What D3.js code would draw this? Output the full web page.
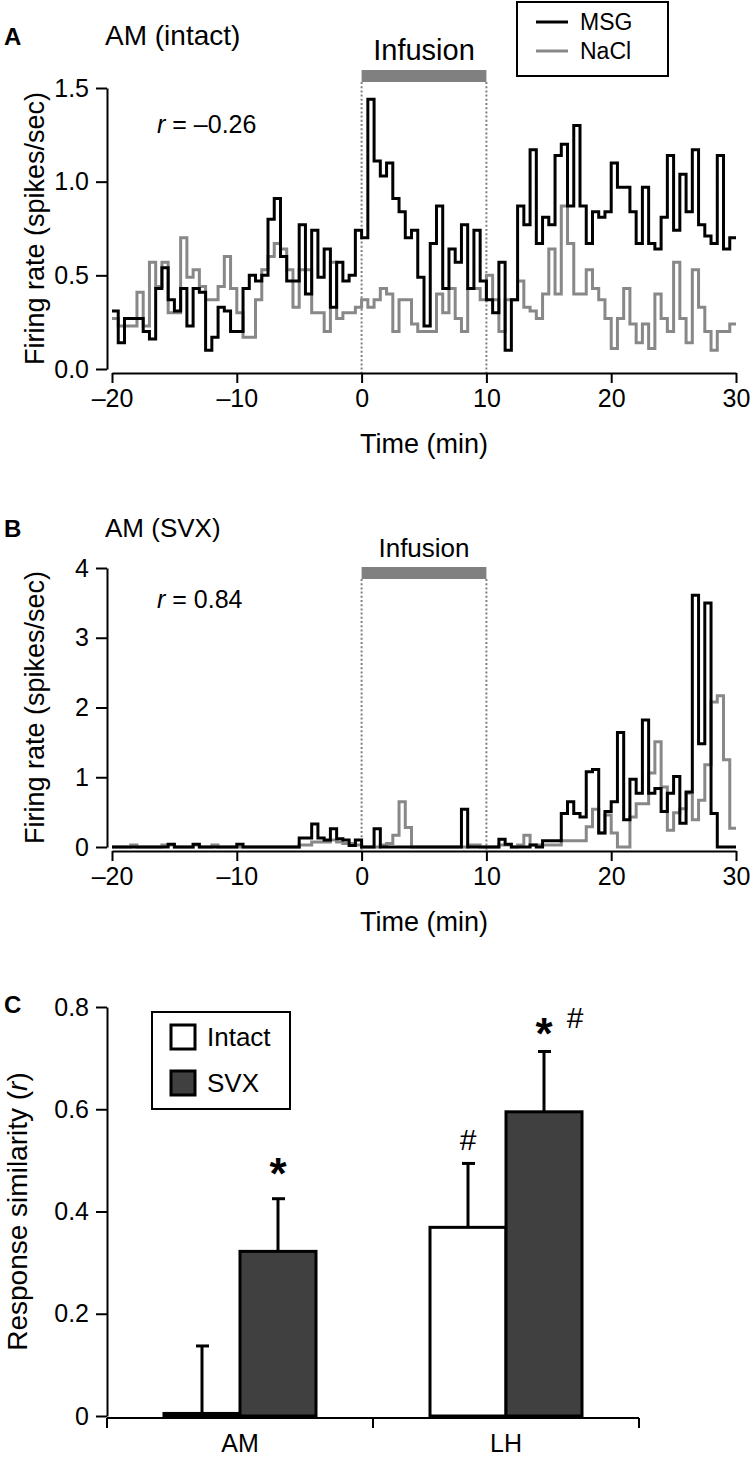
<!DOCTYPE html>
<html>
<head>
<meta charset="UTF-8">
<title>AM firing rate and response similarity</title>
<script src="https://cdnjs.cloudflare.com/ajax/libs/d3/7.8.5/d3.min.js"></script>
<style>
  body { margin: 0; background: #fff; }
  svg text { font-family: "Liberation Sans", Arial, Helvetica, sans-serif; }
</style>
</head>
<body>
<svg id="fig" width="753" height="1460"></svg>
<script>
// 30-s bins, first bin starts at -20 min
var binStart = -20, binWidth = 0.5;
var timeTicks = [-20, -10, 0, 10, 20, 30];
var infusionWindow = [0, 10];

// Panel A: AM (intact), spikes/sec per bin
var msgIntact = [0.31, 0.14, 0.27, 0.27, 0.27, 0.20, 0.16, 0.43, 0.54, 0.37,
                 0.31, 0.43, 0.23, 0.43, 0.41, 0.10, 0.17, 0.33, 0.31, 0.20,
                 0.20, 0.43, 0.50, 0.47, 0.50, 0.80, 0.91, 0.60, 0.47, 0.47,
                 0.77, 0.40, 0.74, 0.49, 0.64, 0.33, 0.57, 0.47, 0.50, 0.74,
                 0.70, 1.44, 1.11, 1.03, 1.10, 0.91, 0.84, 0.70, 0.74, 0.49,
                 0.23, 0.67, 0.87, 0.43, 0.64, 0.57, 0.77, 0.43, 0.74, 0.47,
                 0.37, 0.30, 0.57, 0.10, 0.37, 0.87, 0.77, 1.17, 0.67, 0.81,
                 0.77, 1.14, 1.20, 0.87, 1.30, 0.87, 0.67, 0.84, 0.81, 0.84,
                 1.10, 0.97, 0.97, 0.84, 0.67, 0.97, 0.67, 0.64, 0.81, 1.14,
                 0.74, 1.04, 0.84, 1.17, 0.77, 0.71, 0.67, 1.14, 0.64, 0.70];
var naclIntact = [0.27, 0.23, 0.23, 0.23, 0.41, 0.23, 0.57, 0.44, 0.57, 0.30,
                  0.30, 0.70, 0.49, 0.53, 0.44, 0.37, 0.37, 0.44, 0.60, 0.43,
                  0.30, 0.17, 0.17, 0.37, 0.53, 0.60, 0.67, 0.64, 0.53, 0.33,
                  0.53, 0.53, 0.30, 0.30, 0.20, 0.57, 0.27, 0.30, 0.30, 0.33,
                  0.37, 0.33, 0.37, 0.43, 0.40, 0.20, 0.37, 0.37, 0.24, 0.20,
                  0.20, 0.20, 0.40, 0.30, 0.43, 0.27, 0.20, 0.43, 0.43, 0.37,
                  0.50, 0.37, 0.20, 0.37, 0.37, 0.47, 0.33, 0.31, 0.27, 0.40,
                  0.64, 0.40, 0.87, 0.67, 0.40, 0.40, 0.53, 0.43, 0.37, 0.27,
                  0.11, 0.27, 0.43, 0.24, 0.14, 0.24, 0.11, 0.40, 0.27, 0.20,
                  0.57, 0.27, 0.14, 0.53, 0.33, 0.20, 0.10, 0.20, 0.20, 0.24];

// Panel B: AM (SVX)
var msgSvx = [0, 0, 0, 0, 0, 0, 0, 0, 0, 0.04,
              0, 0, 0, 0.04, 0, 0, 0, 0, 0, 0,
              0.04, 0, 0, 0, 0, 0, 0, 0, 0, 0,
              0.13, 0.13, 0.33, 0.13, 0.10, 0.26, 0.12, 0.10, 0.02, 0.10,
              0, 0, 0.26, 0, 0, 0, 0, 0, 0, 0,
              0, 0, 0, 0, 0, 0, 0.54, 0, 0, 0,
              0, 0, 0.11, 0.04, 0, 0, 0, 0.03, 0, 0.09,
              0.09, 0.09, 0.48, 0.65, 0.48, 0.43, 1.08, 1.11, 0.20, 0.51,
              0.65, 1.64, 0.39, 0.97, 0.77, 1.82, 0.77, 0.84, 0.51, 0.77,
              1.01, 0.34, 0.79, 3.61, 1.48, 3.50, 0.48, 0, 0, 0];
var naclSvx = [0, 0, 0, 0.03, 0, 0, 0, 0, 0.03, 0.03,
               0, 0, 0, 0.03, 0, 0, 0.03, 0, 0, 0,
               0, 0, 0, 0, 0, 0, 0, 0, 0, 0,
               0.03, 0.03, 0.07, 0.07, 0.07, 0.10, 0.07, 0.05, 0.05, 0.03,
               0, 0, 0, 0.03, 0.05, 0.17, 0.65, 0.28, 0, 0,
               0, 0, 0, 0, 0, 0, 0, 0.03, 0.03, 0,
               0, 0, 0.03, 0.03, 0, 0.03, 0.17, 0.03, 0.03, 0.03,
               0.03, 0.03, 0.09, 0.09, 0.09, 0.09, 0.29, 0.54, 0.20, 0.46,
               0.20, 0, 0, 0.43, 0.62, 0.62, 1.06, 1.51, 0.86, 0.24,
               0.49, 0.55, 0.77, 0.39, 0.67, 1.18, 2.08, 2.17, 1.25, 0.27];

// Panel C: response similarity (r), mean and upper SEM
var regions = ["AM", "LH"];
var groups = ["Intact", "SVX"];
var simMean = { AM: [0.005, 0.322], LH: [0.369, 0.595] };
var simErr  = { AM: [0.132, 0.103], LH: [0.125, 0.118] };
var simTicks = [0, 0.2, 0.4, 0.6, 0.8];

var svg = d3.select("#fig");
var BLACK = "#000", GREY = "#888888", BAR = "#808080";

function minusFmt(d) { return d < 0 ? "\u2013" + Math.abs(d) : String(d); }

function styleAxis(g, size) {
    g.attr("font-size", size);
    g.select(".domain").attr("stroke-width", 2);
    g.selectAll(".tick line").attr("stroke-width", 2);
}

function stepPoints(vals) {
    var pts = vals.map(function (v, i) { return [binStart + i * binWidth, v]; });
    pts.push([binStart + vals.length * binWidth, vals[vals.length - 1]]);
    return pts;
}

function drawTrace(opt) {
    var g = svg.append("g");
    var x = d3.scaleLinear().domain([-20, 30]).range([112, 736]);
    var y = d3.scaleLinear().domain([0, opt.ymax]).range([opt.yZero, opt.yTop]);

    // infusion bar + dotted borders
    g.append("rect")
        .attr("x", x(infusionWindow[0]))
        .attr("y", opt.barY)
        .attr("width", x(infusionWindow[1]) - x(infusionWindow[0]))
        .attr("height", 12)
        .attr("fill", BAR);
    g.selectAll("line.inf")
        .data(infusionWindow)
        .enter().append("line")
        .attr("x1", function (d) { return x(d); })
        .attr("x2", function (d) { return x(d); })
        .attr("y1", opt.barY + 12)
        .attr("y2", opt.xAxisY)
        .attr("stroke", BAR)
        .attr("stroke-width", 2)
        .attr("stroke-dasharray", "2,2.2");
    g.append("text")
        .attr("x", x((infusionWindow[0] + infusionWindow[1]) / 2))
        .attr("y", opt.barY - 10)
        .attr("text-anchor", "middle")
        .attr("font-size", opt.infSize)
        .text("Infusion");

    var line = d3.line()
        .x(function (d) { return x(d[0]); })
        .y(function (d) { return y(d[1]); })
        .curve(d3.curveStepAfter);

    g.append("path").datum(stepPoints(opt.nacl))
        .attr("d", line).attr("fill", "none")
        .attr("stroke", GREY).attr("stroke-width", 3);
    g.append("path").datum(stepPoints(opt.msg))
        .attr("d", line).attr("fill", "none")
        .attr("stroke", BLACK).attr("stroke-width", 3);

    // axes
    var ya = g.append("g").attr("transform", "translate(107,0)")
        .call(d3.axisLeft(y).tickValues(opt.yTicks).tickFormat(opt.yFmt)
            .tickSize(11).tickSizeOuter(0).tickPadding(7));
    styleAxis(ya, 25);
    var xa = g.append("g").attr("transform", "translate(0," + opt.xAxisY + ")")
        .call(d3.axisBottom(x).tickValues(timeTicks).tickFormat(minusFmt)
            .tickSize(10).tickSizeOuter(0).tickPadding(6));
    styleAxis(xa, 25);

    g.append("text")
        .attr("x", 424).attr("y", opt.xAxisY + 80)
        .attr("text-anchor", "middle").attr("font-size", 27)
        .text("Time (min)");
    g.append("text")
        .attr("transform", "translate(" + opt.yTitleX + "," + ((opt.yZero + opt.yTop) / 2) + ") rotate(-90)")
        .attr("text-anchor", "middle").attr("font-size", 27)
        .text("Firing rate (spikes/sec)");

    // panel letter + title
    g.append("text").attr("x", 4).attr("y", opt.titleY)
        .attr("font-size", 24).attr("font-weight", "bold").text(opt.letter);
    g.append("text").attr("x", 105).attr("y", opt.titleY)
        .attr("font-size", opt.titleSize).text(opt.title);

    // correlation
    var rt = g.append("text").attr("x", 157).attr("y", opt.rY).attr("font-size", 25);
    rt.append("tspan").attr("font-style", "italic").text("r");
    rt.append("tspan").text(" = " + opt.rText);
    return g;
}

var gA = drawTrace({
    letter: "A", title: "AM (intact)", titleY: 45, titleSize: 28, infSize: 29,
    msg: msgIntact, nacl: naclIntact, ymax: 1.5,
    yTicks: [0, 0.5, 1, 1.5], yFmt: d3.format(".1f"),
    yZero: 369, yTop: 88, xAxisY: 373, barY: 70, yTitleX: 44,
    rY: 133, rText: "\u20130.26"
});

// legend for A
var leg = gA.append("g");
leg.append("rect").attr("x", 517).attr("y", 2).attr("width", 151).attr("height", 74)
    .attr("fill", "#fff").attr("stroke", BLACK).attr("stroke-width", 2);
[["MSG", BLACK], ["NaCl", GREY]].forEach(function (d, i) {
    var cy = 22 + i * 29;
    leg.append("line").attr("x1", 536).attr("x2", 568).attr("y1", cy).attr("y2", cy)
        .attr("stroke", d[1]).attr("stroke-width", 3);
    leg.append("text").attr("x", 580).attr("y", cy + 8).attr("font-size", 23).text(d[0]);
});

drawTrace({
    letter: "B", title: "AM (SVX)", titleY: 537, titleSize: 26, infSize: 26,
    msg: msgSvx, nacl: naclSvx, ymax: 4,
    yTicks: [0, 1, 2, 3, 4], yFmt: d3.format("d"),
    yZero: 847, yTop: 568, xAxisY: 851, barY: 567, yTitleX: 44,
    rY: 608, rText: "0.84"
});

// ---- Panel C ----
var gC = svg.append("g");
var x0 = d3.scaleBand().domain(regions).range([107, 639]);
var x1 = d3.scaleBand().domain(groups).range([0, x0.bandwidth()]).paddingOuter(0.75).paddingInner(0);
var yC = d3.scaleLinear().domain([0, 0.8]).range([1416, 1007]);
var fillFor = { Intact: "#fff", SVX: "#404040" };

var rows = [];
regions.forEach(function (r) {
    groups.forEach(function (g, j) {
        rows.push({ region: r, group: g, mean: simMean[r][j], err: simErr[r][j] });
    });
});

// error bars (upper only)
var eb = gC.selectAll("g.err").data(rows).enter().append("g");
eb.append("line")
    .attr("x1", function (d) { return x0(d.region) + x1(d.group) + x1.bandwidth() / 2; })
    .attr("x2", function (d) { return x0(d.region) + x1(d.group) + x1.bandwidth() / 2; })
    .attr("y1", function (d) { return yC(d.mean); })
    .attr("y2", function (d) { return yC(d.mean + d.err); })
    .attr("stroke", BLACK).attr("stroke-width", 3);
eb.append("line")
    .attr("x1", function (d) { return x0(d.region) + x1(d.group) + x1.bandwidth() / 2 - 6; })
    .attr("x2", function (d) { return x0(d.region) + x1(d.group) + x1.bandwidth() / 2 + 7; })
    .attr("y1", function (d) { return yC(d.mean + d.err); })
    .attr("y2", function (d) { return yC(d.mean + d.err); })
    .attr("stroke", BLACK).attr("stroke-width", 3);

gC.selectAll("rect.bar").data(rows).enter().append("rect")
    .attr("x", function (d) { return x0(d.region) + x1(d.group); })
    .attr("y", function (d) { return yC(d.mean); })
    .attr("width", x1.bandwidth())
    .attr("height", function (d) { return yC(0) - yC(d.mean); })
    .attr("fill", function (d) { return fillFor[d.group]; })
    .attr("stroke", BLACK).attr("stroke-width", 3);

var yaC = gC.append("g").attr("transform", "translate(107,0)")
    .call(d3.axisLeft(yC).tickValues(simTicks)
        .tickFormat(function (d) { return d === 0 ? "0" : d.toFixed(1); })
        .tickSize(11).tickSizeOuter(0).tickPadding(7));
styleAxis(yaC, 25);

// x axis: line with ticks at band edges, labels at band centres
var xaC = gC.append("g").attr("transform", "translate(0,1418)");
xaC.append("line").attr("x1", x0.range()[0]).attr("x2", x0.range()[1])
    .attr("stroke", BLACK).attr("stroke-width", 2);
var edges = regions.map(function (r) { return x0(r); }).concat([x0.range()[1]]);
xaC.selectAll("line.tk").data(edges).enter().append("line")
    .attr("x1", function (d) { return d; }).attr("x2", function (d) { return d; })
    .attr("y1", 0).attr("y2", 10)
    .attr("stroke", BLACK).attr("stroke-width", 2);
xaC.selectAll("text").data(regions).enter().append("text")
    .attr("x", function (d) { return x0(d) + x0.bandwidth() / 2; })
    .attr("y", 34).attr("text-anchor", "middle").attr("font-size", 25)
    .text(function (d) { return d; });

var tC = gC.append("text")
    .attr("transform", "translate(27," + ((yC(0) + yC(0.8)) / 2) + ") rotate(-90)")
    .attr("text-anchor", "middle").attr("font-size", 28);
tC.append("tspan").text("Response similarity (");
tC.append("tspan").attr("font-style", "italic").text("r");
tC.append("tspan").text(")");

gC.append("text").attr("x", 4).attr("y", 1013)
    .attr("font-size", 24).attr("font-weight", "bold").text("C");

// significance marks
function barCentre(r, g) { return x0(r) + x1(g) + x1.bandwidth() / 2; }
function errTop(r, g) { var j = groups.indexOf(g); return yC(simMean[r][j] + simErr[r][j]); }
var marks = [
    { region: "AM", group: "SVX", sym: "*", dx: 0, dy: -10 },
    { region: "LH", group: "Intact", sym: "#", dx: 0, dy: -13 },
    { region: "LH", group: "SVX", sym: "*", dx: 0, dy: -2 },
    { region: "LH", group: "SVX", sym: "#", dx: 31, dy: -23 }
];
gC.selectAll("text.mark").data(marks).enter().append("text")
    .attr("x", function (d) { return barCentre(d.region, d.group) + d.dx; })
    .attr("y", function (d) { return errTop(d.region, d.group) + d.dy; })
    .attr("text-anchor", "middle")
    .attr("font-size", function (d) { return d.sym === "*" ? 44 : 30; })
    .attr("font-weight", function (d) { return d.sym === "*" ? "bold" : "normal"; })
    .text(function (d) { return d.sym; });

// legend for C
var legC = gC.append("g");
legC.append("rect").attr("x", 152).attr("y", 1012).attr("width", 138).attr("height", 97)
    .attr("fill", "#fff").attr("stroke", BLACK).attr("stroke-width", 2);
groups.forEach(function (g, i) {
    var top = 1025 + i * 46;
    legC.append("rect").attr("x", 171).attr("y", top).attr("width", 24).attr("height", 24)
        .attr("fill", fillFor[g]).attr("stroke", BLACK).attr("stroke-width", 3);
    legC.append("text").attr("x", 207).attr("y", top + 21).attr("font-size", 26).text(g);
});
</script>
</body>
</html>
